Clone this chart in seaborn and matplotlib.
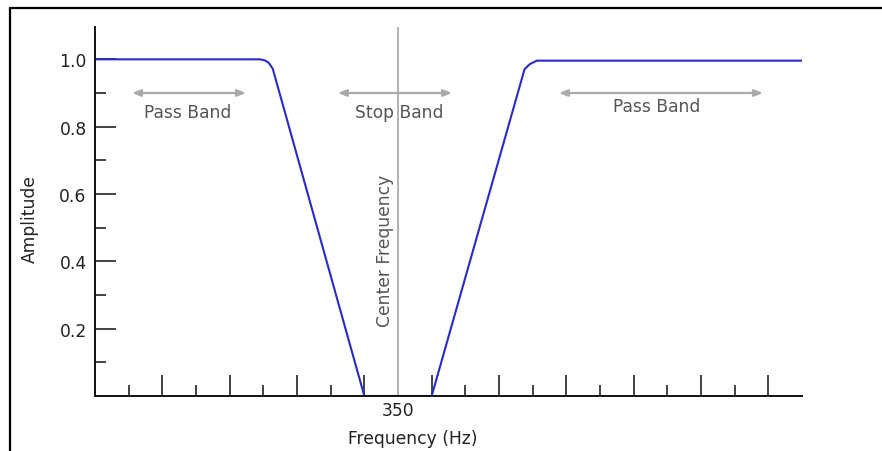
import matplotlib
matplotlib.use("Agg")
import matplotlib.pyplot as plt
import seaborn as sns
import pandas as pd
from matplotlib.lines import Line2D

# ---------------- data ----------------
freq = [125, 247.5, 251, 254, 257, 325, 375, 444, 448, 453, 650]
amplitude = [1.0, 1.0, 0.997, 0.99, 0.972, 0.0, 0.0, 0.971, 0.986, 0.996, 0.996]

center_freq = 350
x_major_ticks = [175, 225, 275, 325, 375, 425, 475, 525, 575, 625]
x_minor_ticks = [150, 200, 250, 300, 400, 450, 500, 550, 600]
y_major_ticks = [0.2, 0.4, 0.6, 0.8, 1.0]
y_tick_labels = ["0.2", "0.4", "0.6", "0.8", "1.0"]
y_minor_ticks = [0.1, 0.3, 0.5, 0.7, 0.9]

band_names = ["Pass Band", "Stop Band", "Pass Band"]
band_starts = [152.5, 305.4, 469.5]
band_ends = [237.1, 390.1, 621.0]
band_arrow_y = [0.9, 0.9, 0.9]
band_text_x = [194, 350.7, 542.3]
band_text_y = [0.843, 0.843, 0.861]

# ---------------- style ----------------
sns.set_style("white")
plt.rcParams["font.family"] = ["DejaVu Sans"]

fig = plt.figure(figsize=(8.82, 4.52), dpi=100)
ax = fig.add_axes([95 / 882, 1 - 397 / 452, 707 / 882, 369 / 452])

df = pd.DataFrame({"Frequency": freq, "Amplitude": amplitude})
sns.lineplot(data=df, x="Frequency", y="Amplitude", sort=False, estimator=None,
             color="#2a2ac8", linewidth=1.5, ax=ax, zorder=2)

ax.set_xlim(125, 650)
ax.set_ylim(0, 1.096)

# centre frequency line
ax.axvline(center_freq, color="#ababab", linewidth=1.3, zorder=1)
ax.text(340.3, 0.434, "Center Frequency", rotation=90, ha="center", va="center",
        fontsize=12.3, color="#555555")

# band arrows and labels
for name, x0, x1, ya, tx, ty in zip(band_names, band_starts, band_ends,
                                    band_arrow_y, band_text_x, band_text_y):
    ax.annotate("", xy=(x0, ya), xytext=(x1, ya),
                arrowprops=dict(arrowstyle="<|-|>,head_length=0.5,head_width=0.2",
                                color="#aaaaaa", lw=1.6, shrinkA=0, shrinkB=0))
    ax.text(tx, ty, name, ha="center", va="center", fontsize=12.3, color="#555555")

# spines
for s in ["top", "right"]:
    ax.spines[s].set_visible(False)
for s in ["left", "bottom"]:
    ax.spines[s].set_color("#111111")
    ax.spines[s].set_linewidth(1.4)

# ticks
ax.set_yticks(y_major_ticks, labels=y_tick_labels)
ax.set_yticks(y_minor_ticks, minor=True)
ax.set_xticks(x_major_ticks + [center_freq],
              labels=[""] * len(x_major_ticks) + [str(center_freq)])
ax.set_xticks(x_minor_ticks, minor=True)
ax.tick_params(axis="both", which="both", bottom=True, left=True, top=False, right=False)
ax.tick_params(axis="both", which="major", direction="in", length=15, width=1.1,
               color="#111111", labelsize=12.3, labelcolor="#222222")
ax.tick_params(axis="both", which="minor", direction="in", length=8, width=1.1,
               color="#111111")
ax.tick_params(axis="y", which="major", pad=6)
ax.tick_params(axis="x", which="major", pad=3.5)
for t, loc in zip(ax.xaxis.get_major_ticks(), ax.get_xticks()):
    if loc == center_freq:
        t.tick1line.set_visible(False)

ax.set_xlabel("Frequency (Hz)", fontsize=12.3, color="#222222", va="center")
ax.set_ylabel("Amplitude", fontsize=12.3, color="#222222", va="center")
ax.xaxis.set_label_coords((413 - 95) / 707, (397 - 439) / 369)
ax.yaxis.set_label_coords((30 - 95) / 707, (397 - 219) / 369)

# outer frame (top and left edges visible)
fig.add_artist(Line2D([10 / 882, 1.0], [1 - 9 / 452, 1 - 9 / 452],
                      transform=fig.transFigure, color="black", linewidth=1.6))
fig.add_artist(Line2D([10 / 882, 10 / 882], [0.0, 1 - 9 / 452],
                      transform=fig.transFigure, color="black", linewidth=1.6))

fig.savefig("out.png", dpi=100)
